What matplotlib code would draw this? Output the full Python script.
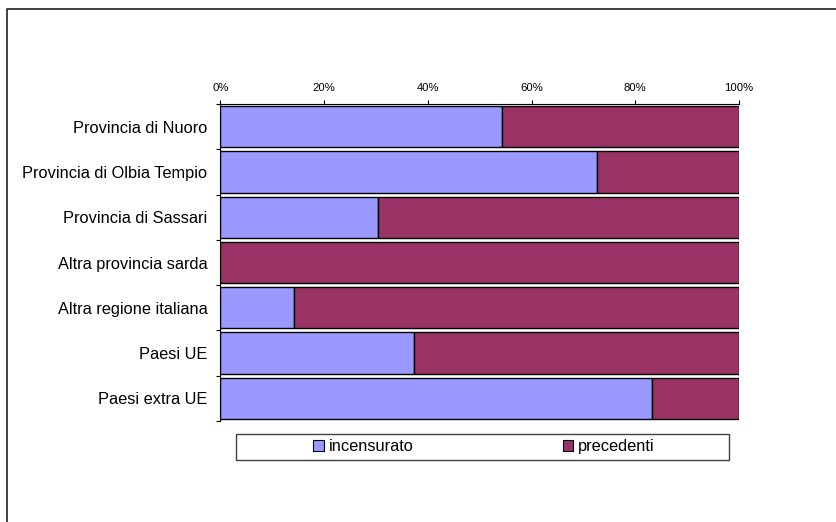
import matplotlib.pyplot as plt
from matplotlib.lines import Line2D
from matplotlib.patches import Rectangle
from matplotlib.ticker import FixedLocator, PercentFormatter
import numpy as np

plt.rcParams['font.family'] = ['Liberation Sans', 'DejaVu Sans']

categories = [
    "Provincia di Nuoro",
    "Provincia di Olbia Tempio",
    "Provincia di Sassari",
    "Altra provincia sarda",
    "Altra regione italiana",
    "Paesi UE",
    "Paesi extra UE",
]
incensurato = [54.3, 72.7, 30.4, 0.0, 14.2, 37.4, 83.2]
precedenti = [45.7, 27.3, 69.6, 100.0, 85.8, 62.6, 16.8]
x_ticks = [0, 20, 40, 60, 80, 100]

COL_INC = "#9999FF"
COL_PREC = "#993366"

W, H = 837, 522
fig = plt.figure(figsize=(W / 100, H / 100), dpi=100)

# plot area in pixel terms
left, right, top, bottom = 220.5, 739, 104, 421
ax = fig.add_axes([left / W, (H - bottom) / H, (right - left) / W, (bottom - top) / H])

y = np.arange(len(categories))
inc = np.array(incensurato)
prec = np.array(precedenti)
ax.barh(y, inc, height=0.91, color=COL_INC, edgecolor="black", linewidth=1)
ax.barh(y, prec, left=inc, height=0.91, color=COL_PREC, edgecolor="black", linewidth=1)

ax.set_xlim(0, 100)
ax.set_ylim(len(categories) - 0.5, -0.5)

# value axis on top
ax.xaxis.tick_top()
ax.set_xticks(x_ticks)
ax.xaxis.set_major_formatter(PercentFormatter(decimals=0))
ax.tick_params(axis="x", which="major", length=3, width=0.8, pad=5,
               labelsize=8.1, colors="black")

# category labels centred, tick marks between rows
ax.set_yticks(y)
ax.set_yticklabels(categories)
ax.yaxis.set_minor_locator(FixedLocator(np.arange(-0.5, len(categories), 1.0)))
ax.tick_params(axis="y", which="major", length=0, pad=9.5, labelsize=11.8)
ax.tick_params(axis="y", which="minor", length=3, width=0.8)

for side in ("right", "bottom"):
    ax.spines[side].set_visible(False)
ax.spines["top"].set_linewidth(0.8)
ax.spines["left"].set_linewidth(0.8)

# legend box
lx0, lx1, ly0, ly1 = 236, 729, 433.5, 459.5
fig.patches.append(Rectangle((lx0 / W, (H - ly1) / H), (lx1 - lx0) / W, (ly1 - ly0) / H,
                             transform=fig.transFigure, fill=False,
                             edgecolor="#404040", linewidth=1))
handles = [Rectangle((0, 0), 1, 1, facecolor=COL_INC, edgecolor="black", linewidth=0.8),
           Rectangle((0, 0), 1, 1, facecolor=COL_PREC, edgecolor="black", linewidth=0.8)]
fig.legend(handles, ["incensurato", "precedenti"], ncol=2, frameon=False,
           loc="center", bbox_to_anchor=(484 / W, (H - 446.5) / H),
           fontsize=11.8, handlelength=0.65, handleheight=0.65,
           handletextpad=0.3, columnspacing=9.1, borderpad=0)

# chart area border
fig.lines.append(Line2D([7.5 / W, 7.5 / W, 1.0], [0.0, (H - 9) / H, (H - 9) / H],
                        transform=fig.transFigure, color="#303030", linewidth=1.3))

fig.savefig("out.png", dpi=100)
